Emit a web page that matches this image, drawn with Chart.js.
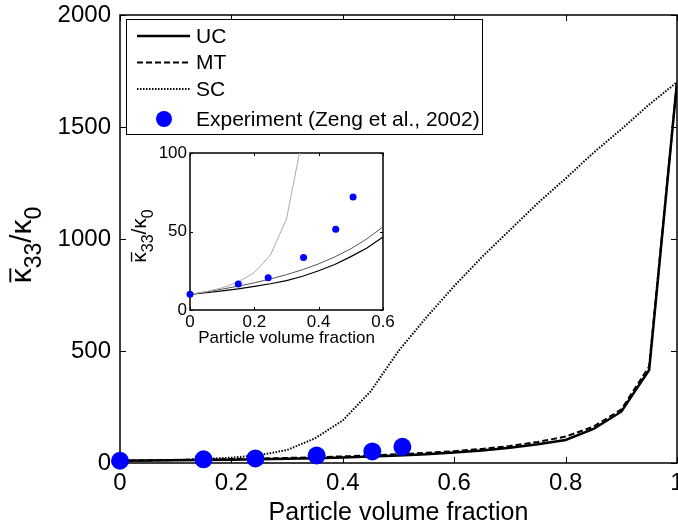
<!DOCTYPE html>
<html>
<head>
<meta charset="utf-8">
<script src="https://cdn.jsdelivr.net/npm/chart.js@4.4.0/dist/chart.umd.min.js"></script>
<style>
  html, body { margin: 0; padding: 0; background: #fff; }
  #wrap { position: relative; width: 678px; height: 529px; overflow: hidden; }
  #main { position: absolute; left: 0; top: 0; }
  #inset { position: absolute; left: 120px; top: 143px; }
</style>
</head>
<body>
<div id="wrap">
  <canvas id="main" width="700" height="529"></canvas>
  <canvas id="inset" width="285" height="210"></canvas>
</div>
<script>
// --- data ---
const volFrac = [0, 0.05, 0.1, 0.15, 0.2, 0.25, 0.3, 0.35, 0.4, 0.45, 0.5,
                 0.55, 0.6, 0.65, 0.7, 0.75, 0.8, 0.85, 0.9, 0.95, 1];
const ucVals = [10, 11, 12.2, 13.5, 15, 16.7, 18.7, 21.5, 25, 29, 34,
                39.5, 46.5, 56, 68, 84, 103, 152, 229, 415, 1700];
const mtVals = [10, 11.5, 13.3, 15.2, 17.3, 19.8, 22.5, 25.7, 29.4, 33.8, 39,
                45.3, 53, 63, 76, 94, 118, 162, 239, 431, 1700];
const scVals = [10, 11.7, 14.1, 17.8, 23.8, 35, 58, 110, 190, 320, 500,
                650, 790, 920, 1040, 1160, 1270, 1385, 1490, 1600, 1700];

const expFrac = [0, 0.15, 0.243, 0.353, 0.453, 0.507];
const expVals = [10, 16.5, 20.5, 33.5, 51.5, 72];

const seriesNames = ['UC', 'MT', 'SC', 'Experiment (Zeng et al., 2002)'];
const mainXTicks = [0, 0.2, 0.4, 0.6, 0.8, 1];
const mainYTicks = [0, 500, 1000, 1500, 2000];
const insetXTicks = [0, 0.2, 0.4, 0.6];
const insetYTicks = [0, 50, 100];
const xTitle = 'Particle volume fraction';

const FONT = '"Liberation Sans", Arial, sans-serif';
const BLUE = '#0000ff';

const pts = (xs, ys) => xs.map((x, i) => ({ x: x, y: ys[i] }));

// box + inward tick marks, matlab style
const framePlugin = {
  id: 'frame',
  beforeDatasetsDraw(chart, args, opts) {
    const { ctx, chartArea: a, scales } = chart;
    ctx.save();
    ctx.strokeStyle = '#000';
    ctx.lineWidth = opts.lineWidth;
    ctx.strokeRect(a.left, a.top, a.right - a.left, a.bottom - a.top);
    ctx.lineWidth = 1;
    ctx.beginPath();
    scales.x.ticks.forEach(t => {
      const px = Math.round(scales.x.getPixelForValue(t.value)) + 0.5;
      ctx.moveTo(px, a.bottom); ctx.lineTo(px, a.bottom - opts.tick);
      ctx.moveTo(px, a.top); ctx.lineTo(px, a.top + opts.tick);
    });
    scales.y.ticks.forEach(t => {
      const py = Math.round(scales.y.getPixelForValue(t.value)) + 0.5;
      ctx.moveTo(a.left, py); ctx.lineTo(a.left + opts.tick, py);
      ctx.moveTo(a.right, py); ctx.lineTo(a.right - opts.tick, py);
    });
    ctx.stroke();
    ctx.restore();
  }
};

// rotated y label: kappa-bar_33 / kappa_0
function drawKappaLabel(ctx, baseX, cy, big, small, subDrop) {
  ctx.save();
  ctx.translate(baseX, cy);
  ctx.rotate(-Math.PI / 2);
  ctx.fillStyle = '#000';
  ctx.textBaseline = 'alphabetic';
  ctx.textAlign = 'left';
  const parts = [['κ', big, 0], ['33', small, 1], ['/', big, 0], ['κ', big, 0], ['0', small, 1]];
  let total = 0;
  parts.forEach(p => {
    ctx.font = p[1] + 'px ' + FONT;
    p.push(ctx.measureText(p[0]).width);
    total += p[3];
  });
  let x = -total / 2;
  parts.forEach((p, i) => {
    ctx.font = p[1] + 'px ' + FONT;
    ctx.fillText(p[0], x, p[2] ? subDrop : 0);
    if (i === 0) {
      ctx.fillRect(x + 1, -big * 0.72, p[3] - 1, Math.max(1, big / 16));
    }
    x += p[3];
  });
  ctx.restore();
}

const mainDecor = {
  id: 'mainDecor',
  afterDraw(chart) {
    const ctx = chart.ctx;
    drawKappaLabel(ctx, 31, 245, 30, 23, 10);

    // legend box
    ctx.save();
    ctx.fillStyle = '#fff';
    ctx.fillRect(126.5, 19.5, 356, 115);
    ctx.strokeStyle = '#000';
    ctx.lineWidth = 1;
    ctx.strokeRect(126.5, 19.5, 356, 115);
    const rows = [36, 62.5, 89, 119];
    const ds = chart.data.datasets;
    ctx.font = '21px ' + FONT;
    ctx.textBaseline = 'middle';
    seriesNames.forEach((name, i) => {
      const d = ds[i];
      const y = rows[i];
      if (i < 3) {
        ctx.strokeStyle = d.borderColor;
        ctx.lineWidth = d.borderWidth;
        ctx.setLineDash(d.borderDash || []);
        ctx.beginPath();
        ctx.moveTo(137, y); ctx.lineTo(190, y);
        ctx.stroke();
        ctx.setLineDash([]);
      } else {
        ctx.fillStyle = BLUE;
        ctx.beginPath();
        ctx.arc(164, y, 8, 0, Math.PI * 2);
        ctx.fill();
      }
      ctx.fillStyle = '#000';
      ctx.fillText(name, 196, y + 1);
    });
    ctx.restore();
  }
};

const insetDecor = {
  id: 'insetDecor',
  afterDraw(chart) {
    drawKappaLabel(chart.ctx, 26, 93, 21, 16, 7);
  }
};

function axisOpts(min, max, tickList, size, pad, isX, fitSize) {
  const o = {
    type: 'linear', min: min, max: max,
    afterBuildTicks: s => { s.ticks = tickList.map(v => ({ value: v })); },
    grid: { display: false, drawTicks: false },
    border: { display: false },
    ticks: {
      padding: pad, color: '#000', autoSkip: false, maxRotation: 0,
      font: { family: FONT, size: size },
      callback: v => String(v)
    }
  };
  if (isX) {
    o.afterFit = s => { s.height = fitSize; s.paddingLeft = 0; s.paddingRight = 0; };
  } else {
    o.afterFit = s => { s.width = fitSize; s.paddingTop = 0; s.paddingBottom = 0; };
  }
  return o;
}

// --- main chart (canvas is wider than the view so the "1" label gets cut like the original) ---
const mainX = axisOpts(0, 1, mainXTicks, 24, 6, true, 66);
mainX.title = { display: true, text: xTitle, color: '#000',
  font: { family: FONT, size: 25 }, padding: { top: 0, bottom: 1 } };
const mainY = axisOpts(0, 2000, mainYTicks, 24, 9, false, 120);

new Chart(document.getElementById('main'), {
  type: 'scatter',
  data: {
    datasets: [
      { label: 'UC', data: pts(volFrac, ucVals), showLine: true, borderColor: '#000',
        borderWidth: 2.5, pointRadius: 0, order: 3 },
      { label: 'MT', data: pts(volFrac, mtVals), showLine: true, borderColor: '#000',
        borderWidth: 2, borderDash: [6, 3], pointRadius: 0, order: 2 },
      { label: 'SC', data: pts(volFrac, scVals), showLine: true, borderColor: '#000',
        borderWidth: 2, borderDash: [1.5, 1.5], pointRadius: 0, order: 1 },
      { label: 'Experiment', data: pts(expFrac, expVals), showLine: false,
        pointRadius: 9, pointBackgroundColor: BLUE, pointBorderWidth: 0,
        clip: false, order: 0 }
    ]
  },
  options: {
    responsive: false,
    animation: false,
    layout: { padding: { top: 15, right: 23, left: 0, bottom: 0 } },
    plugins: {
      legend: { display: false },
      tooltip: { enabled: false },
      frame: { lineWidth: 1.5, tick: 6 }
    },
    scales: { x: mainX, y: mainY }
  },
  plugins: [framePlugin, mainDecor]
});

// --- inset ---
const insetX = axisOpts(0, 0.6, insetXTicks, 17, 2, true, 43);
insetX.title = { display: true, text: xTitle, color: '#000',
  font: { family: FONT, size: 17 }, padding: { top: 0, bottom: 4 } };
const insetY = axisOpts(0, 100, insetYTicks, 17, 3, false, 70);

new Chart(document.getElementById('inset'), {
  type: 'scatter',
  data: {
    datasets: [
      { label: 'UC', data: pts(volFrac, ucVals), showLine: true, borderColor: '#000',
        borderWidth: 1.2, pointRadius: 0, order: 3 },
      { label: 'MT', data: pts(volFrac, mtVals), showLine: true, borderColor: '#555',
        borderWidth: 1, pointRadius: 0, order: 2 },
      { label: 'SC', data: pts(volFrac, scVals), showLine: true, borderColor: '#aaa',
        borderWidth: 1, pointRadius: 0, order: 1 },
      { label: 'Experiment', data: pts(expFrac, expVals), showLine: false,
        pointRadius: 3.5, pointBackgroundColor: BLUE, pointBorderWidth: 0,
        clip: false, order: 0 }
    ]
  },
  options: {
    responsive: false,
    animation: false,
    layout: { padding: { top: 10, right: 22, left: 0, bottom: 0 } },
    plugins: {
      legend: { display: false },
      tooltip: { enabled: false },
      frame: { lineWidth: 1.5, tick: 3 }
    },
    scales: { x: insetX, y: insetY }
  },
  plugins: [framePlugin, insetDecor]
});
</script>
</body>
</html>
